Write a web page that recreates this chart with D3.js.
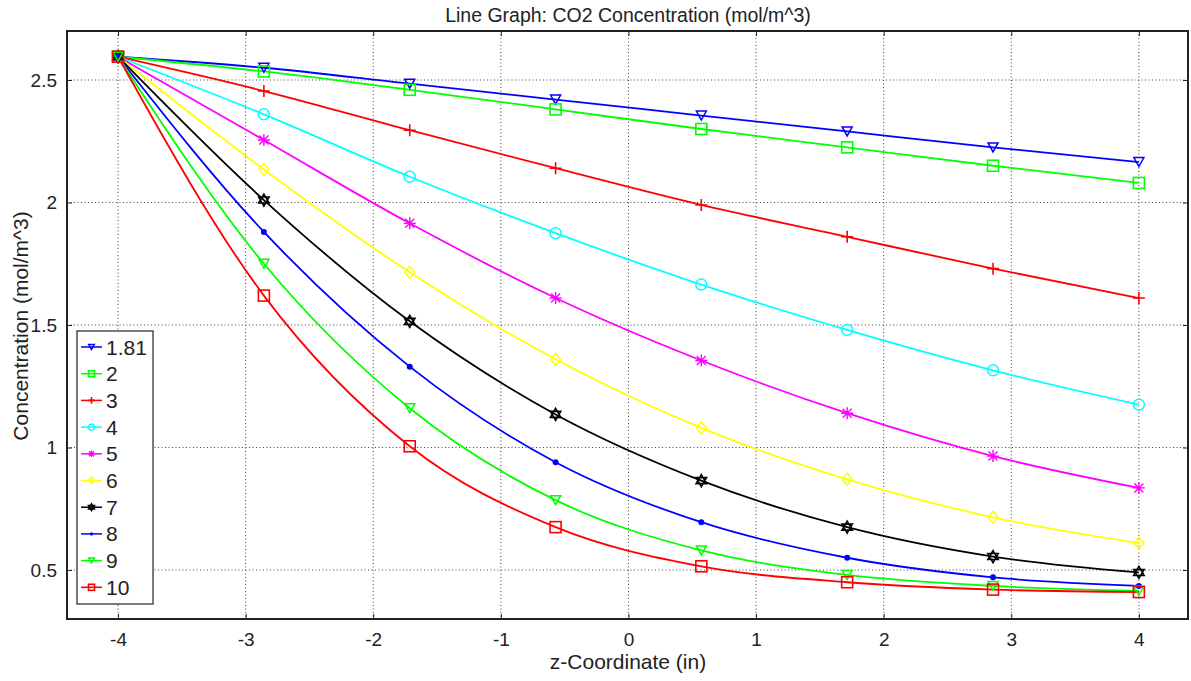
<!DOCTYPE html>
<html><head><meta charset="utf-8">
<script src="https://cdn.jsdelivr.net/npm/d3@7"></script>
<style>body{margin:0;background:#fff}svg{display:block}text{font-family:"Liberation Sans",Arial,sans-serif;fill:#222}</style>
</head><body><svg id="c" width="1191" height="681"></svg>
<script>
const zCoords = [-4, -2.857, -1.714, -0.571, 0.571, 1.714, 2.857, 4];
const seriesNames = ["1.81","2","3","4","5","6","7","8","9","10"];
const s181 = [2.595, 2.55, 2.485, 2.42, 2.355, 2.29, 2.225, 2.165];
const s2   = [2.595, 2.535, 2.46, 2.38, 2.30, 2.225, 2.15, 2.08];
const s3   = [2.595, 2.455, 2.295, 2.14, 1.99, 1.86, 1.73, 1.61];
const s4   = [2.595, 2.36, 2.105, 1.875, 1.665, 1.48, 1.315, 1.175];
const s5   = [2.595, 2.255, 1.915, 1.61, 1.355, 1.14, 0.965, 0.835];
const s6   = [2.595, 2.135, 1.715, 1.36, 1.08, 0.87, 0.715, 0.61];
const s7   = [2.595, 2.01, 1.515, 1.135, 0.865, 0.675, 0.555, 0.49];
const s8   = [2.595, 1.88, 1.33, 0.94, 0.695, 0.55, 0.47, 0.435];
const s9   = [2.595, 1.75, 1.16, 0.785, 0.58, 0.48, 0.435, 0.415];
const s10  = [2.595, 1.62, 1.005, 0.675, 0.515, 0.45, 0.42, 0.41];
const seriesValues = [s181,s2,s3,s4,s5,s6,s7,s8,s9,s10];
const seriesColors = ["#0000ff","#00ff00","#ff0000","#00ffff","#ff00ff","#ffff00","#000000","#0000ff","#00ff00","#ff0000"];
const seriesMarkers = ["tri","square","plus","circle","star","diamond","hex","dot","tri","square"];
const xTicks = [-4,-3,-2,-1,0,1,2,3,4];
const yTicks = [0.5,1,1.5,2,2.5];

const svg = d3.select("#c");
const L=67, R=1188, T=31, B=619;
const x = d3.scaleLinear().domain([-4.4,4.385]).range([L,R]);
const y = d3.scaleLinear().domain([0.3,2.7]).range([B,T]);

// grid
const g = svg.append("g");
g.selectAll(".gx").data(xTicks).join("line").attr("x1",d=>x(d)).attr("x2",d=>x(d)).attr("y1",T).attr("y2",B)
 .attr("stroke","#444").attr("stroke-width",1).attr("stroke-dasharray","1,2.5");
g.selectAll(".gy").data(yTicks).join("line").attr("y1",d=>y(d)).attr("y2",d=>y(d)).attr("x1",L).attr("x2",R)
 .attr("stroke","#444").attr("stroke-width",1).attr("stroke-dasharray","1,2.5");

// axes (ticks inward)
const ax = svg.append("g").attr("transform",`translate(0,${B})`).call(d3.axisBottom(x).tickValues(xTicks).tickSize(-5).tickPadding(14).tickFormat(d=>String(d)));
const ay = svg.append("g").attr("transform",`translate(${L},0)`).call(d3.axisLeft(y).tickValues(yTicks).tickSize(-5).tickPadding(10).tickFormat(d=>String(d)));
const axT = svg.append("g").attr("transform",`translate(0,${T})`).call(d3.axisTop(x).tickValues(xTicks).tickSize(-5).tickFormat(""));
const ayR = svg.append("g").attr("transform",`translate(${R},0)`).call(d3.axisRight(y).tickValues(yTicks).tickSize(-5).tickFormat(""));
[ax,ay,axT,ayR].forEach(a=>{a.select(".domain").remove();a.selectAll("line").attr("stroke","#222");a.selectAll("text").style("font-size","19px").style("font-family","Liberation Sans, Arial, sans-serif").attr("fill","#222");});

// lines
const line = d3.line().x((d,i)=>x(zCoords[i])).y(d=>y(d)).curve(d3.curveMonotoneX);
const plot = svg.append("g");
seriesValues.forEach((vals,k)=>{
  plot.append("path").attr("d",line(vals)).attr("fill","none").attr("stroke",seriesColors[k]).attr("stroke-width",1.8);
});

function marker(sel, type, color, s){
  s = s||1;
  if(type==="tri") sel.append("path").attr("d",`M${-5*s},${-4.5*s}L${5*s},${-4.5*s}L0,${4.5*s}Z`).attr("fill","none").attr("stroke",color).attr("stroke-width",1.5);
  else if(type==="square") sel.append("rect").attr("x",-5.5*s).attr("y",-5.5*s).attr("width",11*s).attr("height",11*s).attr("fill","none").attr("stroke",color).attr("stroke-width",1.6);
  else if(type==="plus") sel.append("path").attr("d",`M${-6*s},0H${6*s}M0,${-6*s}V${6*s}`).attr("stroke",color).attr("stroke-width",1.6);
  else if(type==="circle") sel.append("circle").attr("r",5.5*s).attr("fill","none").attr("stroke",color).attr("stroke-width",1.5);
  else if(type==="star") sel.append("path").attr("d",`M${-6*s},0H${6*s}M0,${-6*s}V${6*s}M${-4.5*s},${-4.5*s}L${4.5*s},${4.5*s}M${-4.5*s},${4.5*s}L${4.5*s},${-4.5*s}`).attr("stroke",color).attr("stroke-width",1.4);
  else if(type==="diamond") sel.append("path").attr("d",`M0,${-6*s}L${5*s},0L0,${6*s}L${-5*s},0Z`).attr("fill","none").attr("stroke",color).attr("stroke-width",1.5);
  else if(type==="hex"){
    const r=6*s, c=r*Math.cos(Math.PI/6), h=r/2;
    sel.append("path").attr("d",`M0,${-r}L${c},${h}L${-c},${h}ZM0,${r}L${c},${-h}L${-c},${-h}Z`).attr("fill","none").attr("stroke",color).attr("stroke-width",1.6);
  }
  else if(type==="dot") sel.append("circle").attr("r",3*s).attr("fill",color);
}
seriesValues.forEach((vals,k)=>{
  vals.forEach((v,i)=>{
    const m = plot.append("g").attr("transform",`translate(${x(zCoords[i])},${y(v)})`);
    marker(m, seriesMarkers[k], seriesColors[k], 1);
  });
});

// frame
svg.append("rect").attr("x",L).attr("y",T).attr("width",R-L).attr("height",B-T).attr("fill","none").attr("stroke","#222").attr("stroke-width",2);

// legend
const lg = svg.append("g").attr("transform","translate(77,331)");
lg.append("rect").attr("x",0).attr("y",0).attr("width",76).attr("height",273).attr("fill","#fff").attr("stroke","#333").attr("stroke-width",1.3);
seriesNames.forEach((n,k)=>{
  const yy = 16 + k*26.7;
  lg.append("line").attr("x1",4).attr("x2",25).attr("y1",yy).attr("y2",yy).attr("stroke",seriesColors[k]).attr("stroke-width",1.5);
  const m = lg.append("g").attr("transform",`translate(14.5,${yy})`);
  marker(m, seriesMarkers[k], seriesColors[k], 0.55);
  lg.append("text").attr("x",29).attr("y",yy+7.5).style("font-size","21px").text(n);
});

// titles
svg.append("text").attr("x",628).attr("y",22).attr("text-anchor","middle").style("font-size","19.5px").text("Line Graph: CO2 Concentration (mol/m^3)");
svg.append("text").attr("x",628).attr("y",669).attr("text-anchor","middle").style("font-size","21px").text("z-Coordinate (in)");
svg.append("text").attr("transform","translate(28,326) rotate(-90)").attr("text-anchor","middle").style("font-size","21px").text("Concentration (mol/m^3)");
</script></body></html>
